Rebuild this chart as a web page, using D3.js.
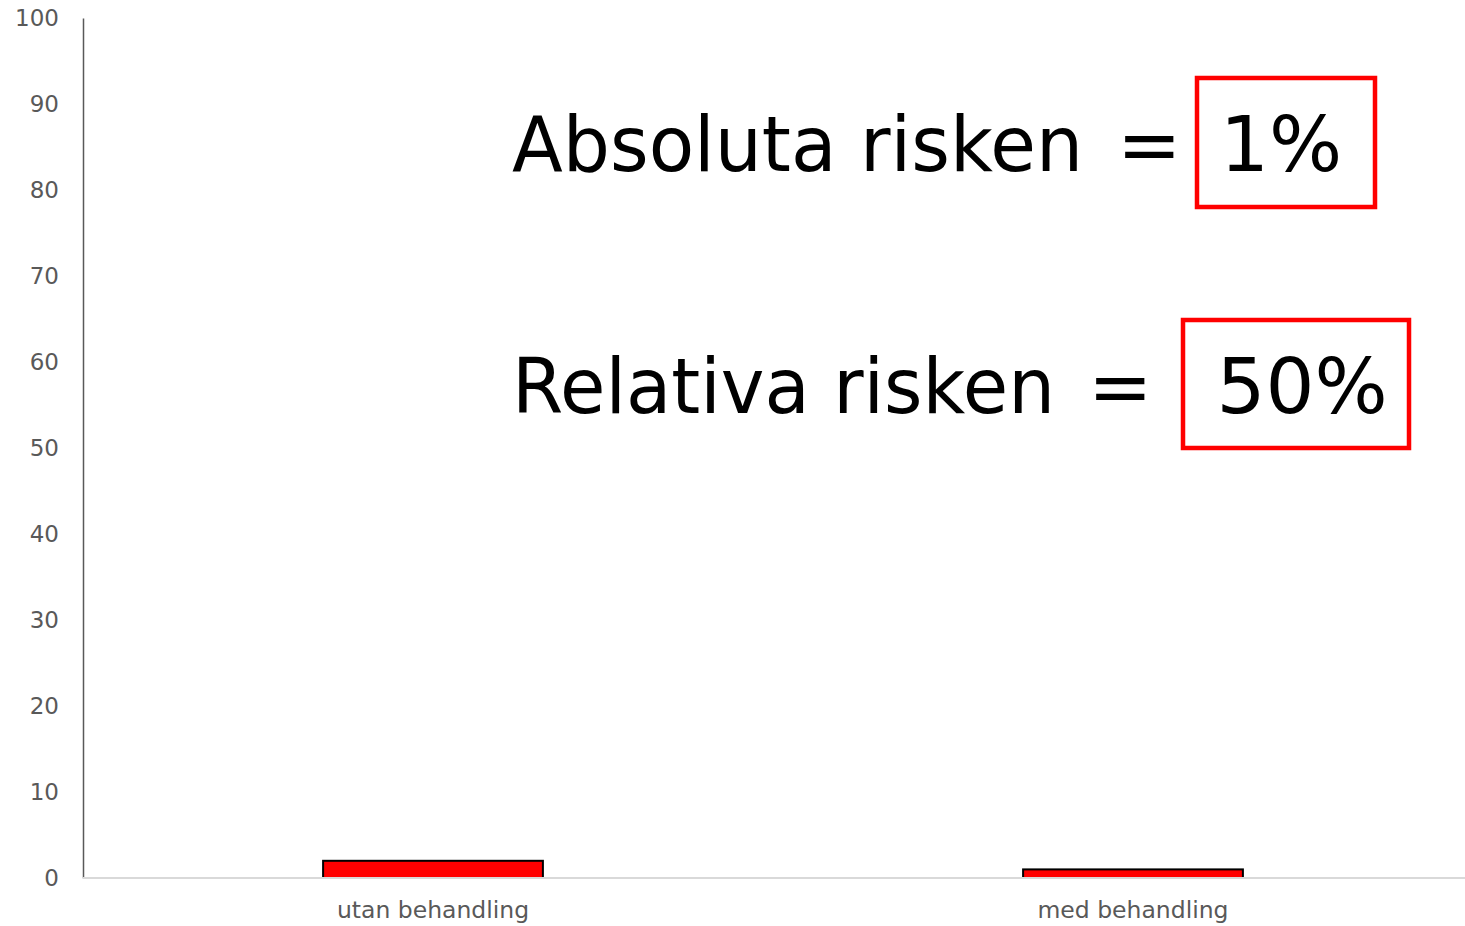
<!DOCTYPE html>
<html>
<head>
  <meta charset="utf-8">
  <script src="https://d3js.org/d3.v7.min.js"></script>
  <style>
    body { margin: 0; background: #fff; }
    .axis text { font: 23px "DejaVu Sans", Verdana, sans-serif; fill: #595959; }
    .x.axis text { font-size: 23.5px; }
    .y.axis path { stroke: #595959; stroke-width: 1.5; }
    .x.axis path { stroke: #d9d9d9; stroke-width: 2; }
    .axis line { display: none; }
    .bar { fill: #ff0000; stroke: #000; stroke-width: 2; }
    .note { font: 77px "DejaVu Sans", Verdana, sans-serif; fill: #000; }
    .box { fill: none; stroke: #ff0000; stroke-width: 4.5; }
  </style>
</head>
<body>
  <svg class="chart"></svg>
  <script>
    var categories = ['utan behandling', 'med behandling'];
    var values = [2, 1];
    var yTicks = [0, 10, 20, 30, 40, 50, 60, 70, 80, 90, 100];
    var noteLabels = ['Absoluta risken', 'Relativa risken'];
    var noteValues = ['1%', '50%'];

    var width = 1465, height = 926;
    var marginLeft = 83, marginTop = 18, baseY = 878;

    var svg = d3.select('.chart')
      .attr('width', width)
      .attr('height', height);

    var x = d3.scaleBand()
      .domain(categories)
      .range([marginLeft, marginLeft + 1400])
      .paddingInner(0.686)
      .paddingOuter(0.343);

    var y = d3.scaleLinear()
      .domain([0, 100])
      .range([baseY, marginTop]);

    svg.selectAll('.bar')
      .data(values)
      .enter()
      .append('rect')
      .attr('class', 'bar')
      .attr('x', function (d, i) { return x(categories[i]); })
      .attr('y', function (d) { return y(d); })
      .attr('width', x.bandwidth())
      .attr('height', function (d) { return y(0) - y(d); });

    // y axis, no tick marks
    svg.append('g')
      .attr('class', 'y axis')
      .attr('transform', 'translate(' + marginLeft + ',0)')
      .call(d3.axisLeft(y).tickValues(yTicks).tickSize(0).tickPadding(24).tickSizeOuter(0));

    // x axis: light grey baseline running to the edge
    var xAxis = svg.append('g')
      .attr('class', 'x axis')
      .attr('transform', 'translate(0,' + baseY + ')')
      .call(d3.axisBottom(x).tickSize(0).tickPadding(23).tickSizeOuter(0));
    xAxis.select('.domain').attr('d', 'M' + marginLeft + ',0H' + width);

    // annotations
    var rows = [
      { y: 171, len: 571, eqX: 1117, valX: 1281, box: [1197, 78, 178, 129] },
      { y: 413, len: 543, eqX: 1088, valX: 1302, box: [1183, 320, 226, 128] }
    ];

    rows.forEach(function (r, i) {
      svg.append('text').attr('class', 'note')
        .attr('x', 512).attr('y', r.y)
        .attr('textLength', r.len).attr('lengthAdjust', 'spacingAndGlyphs')
        .text(noteLabels[i]);
      svg.append('text').attr('class', 'note')
        .attr('x', r.eqX).attr('y', r.y).text('=');
      svg.append('text').attr('class', 'note')
        .attr('x', r.valX).attr('y', r.y)
        .attr('text-anchor', 'middle').text(noteValues[i]);
      svg.append('rect').attr('class', 'box')
        .attr('x', r.box[0]).attr('y', r.box[1])
        .attr('width', r.box[2]).attr('height', r.box[3]);
    });
  </script>
</body>
</html>
